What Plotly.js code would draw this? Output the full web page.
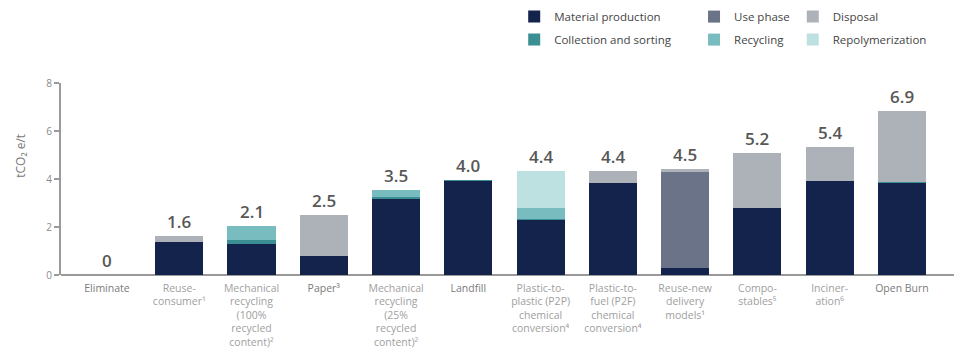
<!DOCTYPE html>
<html>
<head>
<meta charset="utf-8">
<script src="https://cdn.plot.ly/plotly-3.0.1.min.js"></script>
<style>html,body{margin:0;padding:0;background:#fff;}#chart{width:954px;height:350px;}</style>
</head>
<body>
<div id="chart"></div>
<script>
const categories = ["Eliminate","Reuse-consumer","Mech100","Paper","Mech25","Landfill","P2P","P2F","ReuseNew","Compostables","Incineration","OpenBurn"];
const tickLabels = [
  "<span style='color:#7a7a7a'>Eliminate</span>",
  "Reuse-<br>consumer¹",
  "Mechanical<br>recycling<br>(100%<br>recycled<br>content)²",
  "<span style='color:#7a7a7a'>Paper³</span>",
  "Mechanical<br>recycling<br>(25%<br>recycled<br>content)²",
  "<span style='color:#7a7a7a'>Landfill</span>",
  "Plastic-to-<br>plastic (P2P)<br>chemical<br>conversion⁴",
  "Plastic-to-<br>fuel (P2F)<br>chemical<br>conversion⁴",
  "Reuse-new<br>delivery<br>models¹",
  "Compo-<br>stables⁵",
  "Inciner-<br>ation⁶",
  "<span style='color:#7a7a7a'>Open Burn</span>"
];
const materialProduction = [0, 1.36, 1.30, 0.80, 3.18, 3.93, 2.30, 3.82, 0.30, 2.80, 3.90, 3.82];
const collectionSorting  = [0, 0,    0.17, 0,    0.07, 0.04, 0.05, 0,    0,    0,    0,    0.05];
const usePhase           = [0, 0,    0,    0,    0,    0,    0,    0,    4.00, 0,    0,    0];
const recycling          = [0, 0,    0.58, 0,    0.30, 0,    0.43, 0,    0,    0,    0,    0];
const repolymerization   = [0, 0,    0,    0,    0,    0,    1.57, 0,    0,    0,    0,    0];
const disposal           = [0, 0.27, 0,    1.68, 0,    0,    0,    0.53, 0.13, 2.30, 1.45, 2.95];
const totalLabels = ["0","1.6","2.1","2.5","3.5","4.0","4.4","4.4","4.5","5.2","5.4","6.9"];

const series = [
  {name:"Material production", y:materialProduction, color:"#13234b", legend:"legend"},
  {name:"Collection and sorting", y:collectionSorting, color:"#3b8f92", legend:"legend"},
  {name:"Use phase", y:usePhase, color:"#6b7389", legend:"legend2"},
  {name:"Recycling", y:recycling, color:"#79bcc0", legend:"legend2"},
  {name:"Repolymerization", y:repolymerization, color:"#bde0e1", legend:"legend3"},
  {name:"Disposal", y:disposal, color:"#adb2b9", legend:"legend3"}
];
const legendRank = {"Material production":1,"Collection and sorting":2,"Use phase":1,"Recycling":2,"Disposal":1,"Repolymerization":2};

const traces = series.map(s => ({
  type:"bar", name:s.name, x:categories, y:s.y,
  marker:{color:s.color, line:{width:0}},
  legend:s.legend, legendrank:legendRank[s.name], legendgroup:s.name,
  hoverinfo:"name+y"
}));

const totals = categories.map((c,i) => series.reduce((a,s)=>a+s.y[i],0));
const annotations = categories.map((c,i) => ({
  x:c, y:totals[i], xref:"x", yref:"y", text:totalLabels[i], showarrow:false,
  yanchor:"bottom", yshift:1,
  font:{family:"Open Sans", size:17, color:"#575757", weight:600}
}));
annotations.push({
  text:"tCO₂ e/t", xref:"paper", yref:"paper", x:-0.045, y:0.62, xanchor:"center", yanchor:"middle",
  textangle:-90, showarrow:false, font:{family:"Open Sans", size:12, color:"#777"}
});

const legBase = {orientation:"v", xref:"container", yref:"container", xanchor:"left", yanchor:"top", y:0.994,
  font:{family:"Open Sans", size:11.5, color:"#444"}, traceorder:"grouped", tracegroupgap:4,
  bgcolor:"rgba(0,0,0,0)", itemwidth:30};

const layout = {
  width:954, height:350,
  margin:{l:61, r:0, t:83, b:75, autoexpand:false},
  paper_bgcolor:"#fff", plot_bgcolor:"#fff",
  barmode:"stack", bargap:0.335,
  font:{family:"Open Sans", color:"#888"},
  xaxis:{
    type:"category", tickvals:categories, ticktext:tickLabels, tickangle:0,
    range:[-0.636, 11.72], showgrid:false, zeroline:false, automargin:false,
    showline:false, ticks:"", ticklabelstandoff:5, tickfont:{size:10.5, color:"#a0a0a0", family:"Open Sans"},
    fixedrange:true
  },
  yaxis:{
    range:[0,8], tickvals:[0,2,4,6,8], showgrid:false, zeroline:true, zerolinecolor:"#9a9a9a", zerolinewidth:2,
    showline:true, linecolor:"#9a9a9a", linewidth:2, ticks:"outside", ticklen:5, tickwidth:1.5, tickcolor:"#9a9a9a",
    tickfont:{size:10, color:"#8a8a8a", family:"Open Sans"}, fixedrange:true, automargin:false
  },
  showlegend:true,
  legend:Object.assign({}, legBase, {x:0.539}),
  legend2:Object.assign({}, legBase, {x:0.7275}),
  legend3:Object.assign({}, legBase, {x:0.831}),
  annotations:annotations
};

Plotly.newPlot("chart", traces, layout, {displayModeBar:false, staticPlot:true});
</script>
</body>
</html>
